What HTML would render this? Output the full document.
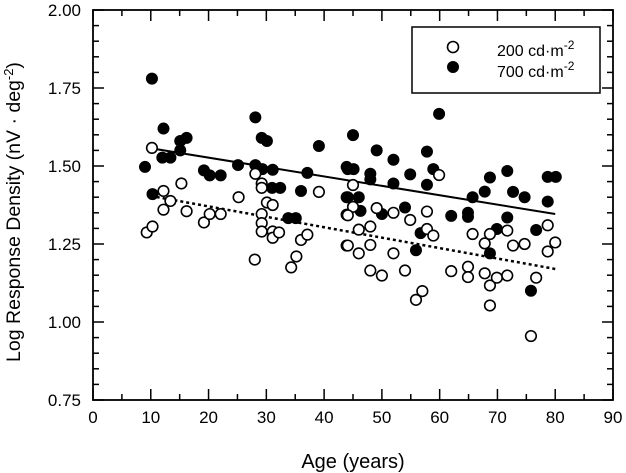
<!DOCTYPE html>
<html><head><meta charset="utf-8"><style>
html,body{margin:0;padding:0;background:#fff;}
svg{display:block;font-family:"Liberation Sans",Arial,sans-serif;}
</style></head><body>
<svg id="chart" width="626" height="473" viewBox="0 0 626 473" xmlns="http://www.w3.org/2000/svg">
<g id="axes"></g>
<g id="marks"></g>
<g id="legend">
<rect x="412" y="27" width="188" height="66" fill="#fff" stroke="#000" stroke-width="1.5"/>
<circle cx="453" cy="47" r="5.5" fill="#fff" stroke="#000" stroke-width="1.6"/>
<circle cx="453" cy="67" r="6" fill="#000"/>
<text x="497" y="56" font-size="16">200 cd·m<tspan dy="-7" font-size="12">-2</tspan></text>
<text x="497" y="77" font-size="16">700 cd·m<tspan dy="-7" font-size="12">-2</tspan></text>
</g>
<text x="353" y="468" font-size="20" text-anchor="middle">Age (years)</text>
<text transform="translate(20,212) rotate(-90)" font-size="19.5" text-anchor="middle">Log Response Density (nV · deg<tspan dy="-7" font-size="13">-2</tspan><tspan dy="7">)</tspan></text>
</svg>
<script>
const xTicks=[0,10,20,30,40,50,60,70,80,90];
const yTicks=[0.75,1.00,1.25,1.50,1.75,2.00];
const yTickLabels=["0.75","1.00","1.25","1.50","1.75","2.00"];
const age200=[10.2,12.2,13.4,12.2,15.3,16.2,9.3,10.3,19.2,20.2,22.1,25.2,28.0,28.1,29.2,29.2,30.1,31.1,29.2,29.2,29.2,31.1,31.1,32.2,36.0,37.1,34.3,35.2,39.1,43.9,43.9,45.0,45.0,44.1,46.0,44.1,46.0,48.0,48.0,48.0,50.0,49.1,52.0,52.0,54.0,54.9,55.9,57.0,57.8,57.8,58.9,59.9,62.0,64.9,64.9,65.7,67.8,67.8,68.7,68.7,68.7,69.9,71.7,71.7,72.7,74.7,75.8,76.7,78.7,78.7,80.0];
const val200=[1.558,1.42,1.388,1.36,1.444,1.355,1.287,1.306,1.319,1.346,1.346,1.40,1.20,1.475,1.444,1.43,1.383,1.375,1.346,1.317,1.29,1.29,1.27,1.287,1.263,1.28,1.175,1.21,1.417,1.344,1.245,1.439,1.369,1.342,1.296,1.245,1.22,1.306,1.247,1.165,1.149,1.365,1.35,1.22,1.165,1.327,1.071,1.099,1.354,1.298,1.277,1.471,1.163,1.177,1.144,1.282,1.252,1.156,1.282,1.117,1.053,1.142,1.293,1.149,1.245,1.25,0.955,1.142,1.31,1.226,1.255];
const age700=[10.2,9.0,12.2,12.0,13.4,15.1,16.2,15.1,10.3,19.2,20.2,22.1,25.1,28.1,29.2,30.1,28.1,29.3,31.1,31.0,32.4,33.8,35.1,37.1,36.0,39.1,43.9,43.9,45.0,44.1,45.1,44.1,46.0,46.3,48.0,48.0,49.1,50.0,52.0,52.0,54.0,54.9,56.7,55.9,57.8,57.8,58.9,59.9,62.0,64.9,64.9,65.7,67.8,68.7,68.7,69.9,71.7,71.7,72.7,74.7,75.8,76.7,78.7,80.1,78.7];
const val700=[1.78,1.497,1.62,1.527,1.527,1.58,1.59,1.55,1.41,1.486,1.47,1.47,1.503,1.656,1.59,1.58,1.503,1.49,1.488,1.43,1.43,1.333,1.333,1.478,1.42,1.564,1.497,1.40,1.599,1.49,1.49,1.40,1.40,1.356,1.475,1.457,1.55,1.346,1.52,1.444,1.367,1.473,1.285,1.23,1.546,1.44,1.49,1.667,1.34,1.35,1.337,1.40,1.418,1.463,1.22,1.298,1.484,1.335,1.417,1.40,1.10,1.295,1.465,1.465,1.386];
const fitAges=[10,80];
const fit700=[1.557,1.346];
const fit200=[1.404,1.17];

const NS='http://www.w3.org/2000/svg';
const X0=93,X1=613,Y0=400,Y1=10;
function sx(a){return X0+(a-0)/90*(X1-X0);}
function sy(v){return Y0-(v-0.75)/1.25*(Y0-Y1);}
function mk(tag,attrs,parent){const e=document.createElementNS(NS,tag);for(const k in attrs)e.setAttribute(k,attrs[k]);parent.appendChild(e);return e;}
const axes=document.getElementById('axes');
const marks=document.getElementById('marks');
const frame=mk('rect',{x:X0,y:Y1,width:X1-X0,height:Y0-Y1,fill:'none',stroke:'#000','stroke-width':1.8},axes);


for(let a=0;a<=90;a+=5){
  const L=(a%10===0)?11:6;
  const t1=mk('line',{x1:sx(a),x2:sx(a),y1:Y0,y2:Y0-L,stroke:'#000','stroke-width':1.5},axes);
  
  
  const t2=mk('line',{x1:sx(a),x2:sx(a),y1:Y1,y2:Y1+L,stroke:'#000','stroke-width':1.5},axes);
  
  
}
xTicks.forEach(a=>{
  const t=mk('text',{x:sx(a),y:Y0+23,'font-size':17,'text-anchor':'middle'},axes);
  t.textContent=a;
  
  
});
for(let i=0;i<=25;i++){
  const v=0.75+i*0.05;
  const L=(i%5===0)?11:6;
  const t1=mk('line',{x1:X0,x2:X0+L,y1:sy(v),y2:sy(v),stroke:'#000','stroke-width':1.5},axes);
  
  
  const t2=mk('line',{x1:X1,x2:X1-L,y1:sy(v),y2:sy(v),stroke:'#000','stroke-width':1.5},axes);
  
  
}
yTicks.forEach((v,i)=>{
  const t=mk('text',{x:X0-12,y:sy(v)+6,'font-size':17,'text-anchor':'end'},axes);
  t.textContent=yTickLabels[i];
  
  
});
const l7=mk('line',{x1:sx(fitAges[0]),y1:sy(fit700[0]),x2:sx(fitAges[1]),y2:sy(fit700[1]),stroke:'#000','stroke-width':2},marks);


const l2=mk('line',{x1:sx(fitAges[0]),y1:sy(fit200[0]),x2:sx(fitAges[1]),y2:sy(fit200[1]),stroke:'#000','stroke-width':2.5,'stroke-dasharray':'3,3'},marks);


age700.forEach((a,i)=>{
  const c=mk('circle',{cx:sx(a),cy:sy(val700[i]),r:6,fill:'#000'},marks);
  
  
});
age200.forEach((a,i)=>{
  const c=mk('circle',{cx:sx(a),cy:sy(val200[i]),r:5.3,fill:'#fff',stroke:'#000','stroke-width':1.6},marks);
  
  
});
</script>
</body></html>
